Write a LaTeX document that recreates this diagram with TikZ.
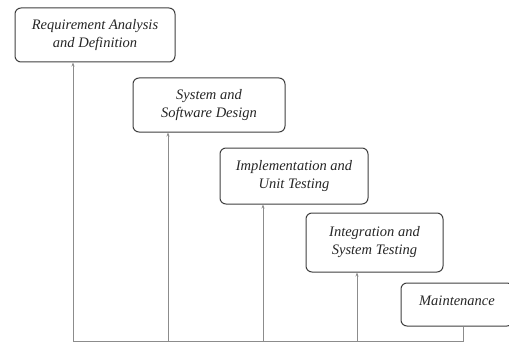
\documentclass[tikz,border=0pt]{standalone}
\usepackage{fontspec}
\setmainfont{Liberation Serif}
\usetikzlibrary{arrows.meta}
\begin{document}
\begin{tikzpicture}[x=1pt,y=-1pt,
  phase/.style={draw=black!75,line width=1pt,rounded corners=6pt,fill=white},
  ptext/.style={font=\fontsize{14.5}{18}\selectfont\itshape,align=center,text=black!85},
  flow/.style={draw=black!45,line width=0.9pt},
  up/.style={flow,-{Stealth[length=4pt,width=3pt]}}]
\useasboundingbox (0,0) rectangle (509,353);
\node[phase,minimum width=160pt,minimum height=54pt] (b1) at (95,35) {};
\node[ptext] at (b1) {Requirement Analysis\\and Definition};
\node[phase,minimum width=152pt,minimum height=54pt] (b2) at (209,105) {};
\node[ptext] at (b2) {System and\\Software Design};
\node[phase,minimum width=148pt,minimum height=56pt] (b3) at (294,176) {};
\node[ptext] at (b3) {Implementation and\\Unit Testing};
\node[phase,minimum width=137pt,minimum height=59pt] (b4) at (374.5,242.5) {};
\node[ptext] at (b4) {Integration and\\System Testing};
\node[phase,minimum width=112pt,minimum height=43pt] (b5) at (457,304.5) {};
\node[ptext,anchor=base] at (457,305) {Maintenance};
\coordinate (c1) at (73,341);
\coordinate (c2) at (168,341);
\coordinate (c3) at (263,341);
\coordinate (c4) at (357,341);
\coordinate (c5) at (463,341);
\draw[flow] (b5.south -| c5) -- (c5) -- (c1);
\draw[up] (c1) -- (c1 |- b1.south);
\draw[up] (c2) -- (c2 |- b2.south);
\draw[up] (c3) -- (c3 |- b3.south);
\draw[up] (c4) -- (c4 |- b4.south);
\end{tikzpicture}
\end{document}
